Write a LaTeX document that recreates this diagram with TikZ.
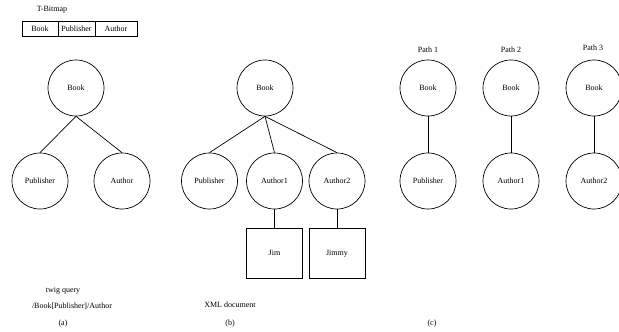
\documentclass[tikz,border=0pt]{standalone}
\usepackage{fontspec}
\setmainfont{Liberation Serif}
\begin{document}
\begin{tikzpicture}[x=1pt,y=-1pt,
  font=\fontsize{8}{9.6}\selectfont,
  tnode/.style={circle,draw,line width=0.7pt,minimum size=56pt,inner sep=0pt},
  leaf/.style={rectangle,draw,line width=0.7pt,minimum width=56pt,minimum height=50pt,inner sep=0pt,
    text height=1.5ex,text depth=0.25ex},
  edge/.style={line width=0.7pt},
  cell/.style={rectangle,draw,line width=0.7pt,minimum height=15pt,inner sep=0pt},
  caption/.style={inner sep=0pt}]
\useasboundingbox (0,0) rectangle (619,332);
\clip (0,0) rectangle (619,332);

% T-Bitmap header
\node[caption] (bmtitle) at (52,10) {T-Bitmap};
\node[cell,minimum width=36pt] (bm1) at (40,28.5) {Book};
\node[cell,minimum width=37pt] (bm2) at (76.5,28.5) {Publisher};
\node[cell,minimum width=42pt] (bm3) at (116,28.5) {Author};

% (a) twig query
\node[tnode] (abook) at (76,88) {Book};
\node[tnode] (apub) at (40,181) {Publisher};
\node[tnode] (aauth) at (122,181) {Author};
\draw[edge] (abook.south) -- (apub.north);
\draw[edge] (abook.south) -- (aauth.north);
\node[caption] (atxt1) at (63,291) {twig query};
\node[caption] (atxt2) at (72,306) {/Book[Publisher]/Author};
\node[caption] (alab) at (63,324) {(a)};

% (b) XML document
\node[tnode] (bbook) at (265,88) {Book};
\node[tnode] (bpub) at (209.5,181) {Publisher};
\node[tnode] (bauth1) at (274.5,181) {Author1};
\node[tnode] (bauth2) at (337,181) {Author2};
\node[leaf] (bjim) at (274.5,253) {Jim};
\node[leaf] (bjimmy) at (337,253) {Jimmy};
\draw[edge] (bbook.south) -- (bpub.north);
\draw[edge] (bbook.south) -- (bauth1.north);
\draw[edge] (bbook.south) -- (bauth2.north);
\draw[edge] (bauth1.south) -- (bjim.north);
\draw[edge] (bauth2.south) -- (bjimmy.north);
\node[caption] (btxt) at (230,305) {XML document};
\node[caption] (blab) at (230,324) {(b)};

% (c) root-to-leaf paths
\node[caption] (p1) at (428,50) {Path 1};
\node[caption] (p2) at (511,50) {Path 2};
\node[caption] (p3) at (593,48) {Path 3};
\node[tnode] (c1top) at (428,88) {Book};
\node[tnode] (c1bot) at (428,181) {Publisher};
\node[tnode] (c2top) at (511,88) {Book};
\node[tnode] (c2bot) at (511,181) {Author1};
\node[tnode] (c3top) at (594,88) {Book};
\node[tnode] (c3bot) at (594,181) {Author2};
\draw[edge] (c1top.south) -- (c1bot.north);
\draw[edge] (c2top.south) -- (c2bot.north);
\draw[edge] (c3top.south) -- (c3bot.north);
\node[caption] (clab) at (432,324) {(c)};
\end{tikzpicture}
\end{document}
